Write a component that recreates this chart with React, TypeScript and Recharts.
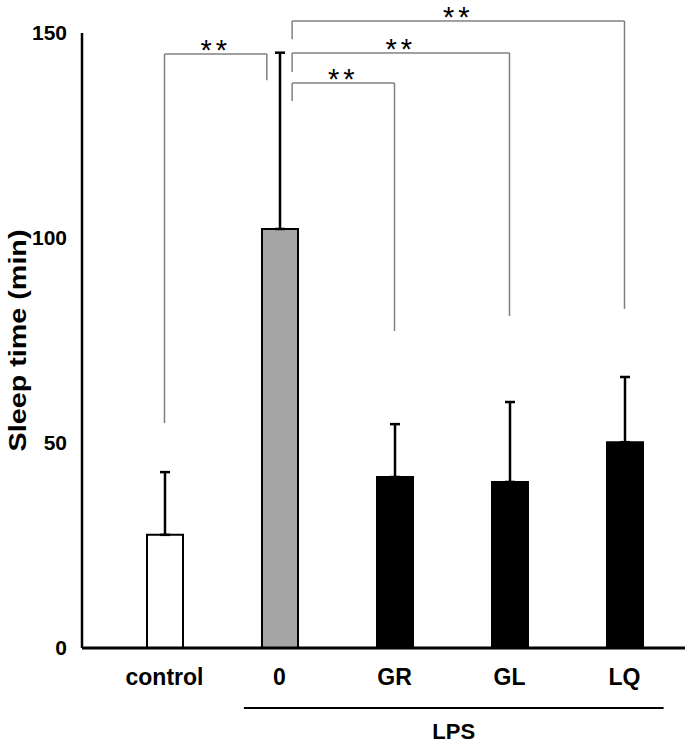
import { Bar, BarChart, Cell, ErrorBar, ReferenceLine, XAxis, YAxis } from "recharts";

// groups, means and upper SD
const groups = ["control", "0", "GR", "GL", "LQ"];
const means = [27.6, 102.2, 41.7, 40.5, 50.2];
const errUp = [15.3, 43.0, 12.9, 19.5, 15.9];
const fills = ["#ffffff", "#a6a6a6", "#000000", "#000000", "#000000"];
const yTicks = [0, 50, 100, 150];

// significance brackets: group indices, bracket height, leg end values
const brFrom = [0, 1, 1, 1];
const brTo = [1, 2, 3, 4];
const brTop = [144.9, 137.8, 145.1, 152.9];
const brFromEnd = [54.9, 133.4, 140.5, 148.5];
const brToEnd = [138.5, 77.3, 81.0, 82.7];
const brLabel = ["**", "**", "**", "**"];

// LPS group under the axis
const lpsFrom = 1;
const lpsTo = 4;

const W = 685;
const H = 747;
const TOP = 33;
const AXIS_W = 82;
const XAXIS_H = 50;
const BOTTOM = 49;
const PAD_L = 25;
const PAD_R = 3;
const HUB = 1; // bar with the tall error bar, legs step aside from it
const LEG_SHIFT = 0.11;

const font = "Arial, 'Liberation Sans', sans-serif";

const data = groups.map((g, i) => ({
  name: g,
  value: means[i],
  err: [0, errUp[i]],
}));

const band = (W - AXIS_W - PAD_L - PAD_R) / groups.length;
const plotH = H - TOP - XAXIS_H - BOTTOM;
const pxToVal = (px: number) => (px * 150) / plotH;

// pixel shift of a bracket leg away from the hub bar
const legShift = (idx: number, other: number) =>
  idx === HUB ? Math.sign(other - idx) * LEG_SHIFT * band : 0;

// a reference line whose two ends are moved sideways by dx1 / dx2 px
const shiftedLine = (dx1: number, dx2: number) => (p: any) => (
  <line
    x1={p.x1 + dx1}
    y1={p.y1}
    x2={p.x2 + dx2}
    y2={p.y2}
    stroke={p.stroke}
    strokeWidth={p.strokeWidth}
  />
);

function StarLabel(props: any) {
  const vb = props.viewBox || {};
  return (
    <text
      x={vb.x + vb.width / 2 + (props.shift || 0)}
      y={vb.y + 6}
      textAnchor="middle"
      fontFamily={font}
      fontSize={29}
      letterSpacing={4}
      fill="#000"
    >
      {props.value}
    </text>
  );
}

function GroupLabel(props: any) {
  const vb = props.viewBox || {};
  return (
    <text
      x={vb.x + vb.width / 2 + (props.shift || 0)}
      y={vb.y + 31}
      textAnchor="middle"
      fontFamily={font}
      fontWeight="bold"
      fontSize={22}
      fill="#000"
    >
      {props.value}
    </text>
  );
}

function YLabel(props: any) {
  const vb = props.viewBox || {};
  const cx = 18;
  const cy = vb.y + vb.height / 2;
  return (
    <text
      x={cx}
      y={cy}
      transform={`rotate(-90 ${cx} ${cy})`}
      dy="0.35em"
      textAnchor="middle"
      fontFamily={font}
      fontWeight="bold"
      fontSize={24}
      textLength={222}
      lengthAdjust="spacingAndGlyphs"
      fill="#000"
    >
      Sleep time (min)
    </text>
  );
}

export default function App() {
  const tickStyle = { fontFamily: font, fontWeight: "bold", fill: "#000" };
  const lpsY = -pxToVal(60);
  const lpsDx1 = -0.31 * band;
  const lpsDx2 = 0.34 * band;
  return (
    <div style={{ position: "absolute", left: 0, top: 0, width: W, height: H, background: "#fff" }}>
      <BarChart
        width={W}
        height={H}
        data={data}
        margin={{ top: TOP, right: 0, bottom: BOTTOM, left: 0 }}
        barSize={36}
      >
        <XAxis
          dataKey="name"
          padding={{ left: PAD_L, right: PAD_R }}
          height={XAXIS_H}
          tickLine={false}
          tickSize={0}
          tickMargin={21}
          axisLine={{ stroke: "#000", strokeWidth: 3 }}
          tick={{ ...tickStyle, fontSize: 23 }}
          interval={0}
        />
        <YAxis
          width={AXIS_W}
          domain={[0, 150]}
          ticks={yTicks}
          interval={0}
          tickLine={false}
          tickSize={0}
          tickMargin={15}
          axisLine={{ stroke: "#000", strokeWidth: 2.5 }}
          tick={{ ...tickStyle, fontSize: 21 }}
          label={<YLabel />}
        />
        <Bar dataKey="value" stroke="#000" strokeWidth={2} isAnimationActive={false}>
          {data.map((d, i) => (
            <Cell key={d.name} fill={fills[i]} />
          ))}
          <ErrorBar dataKey="err" direction="y" width={5} stroke="#000" strokeWidth={2.5} />
        </Bar>

        {brFrom.map((f, i) => {
          const t = brTo[i];
          const d1 = legShift(f, t);
          const d2 = legShift(t, f);
          const stroke = "#808080";
          return [
            <ReferenceLine
              key={`h${i}`}
              ifOverflow="visible"
              stroke={stroke}
              strokeWidth={1.5}
              segment={[{ x: groups[f], y: brTop[i] }, { x: groups[t], y: brTop[i] }]}
              shape={shiftedLine(d1, d2)}
              label={<StarLabel value={brLabel[i]} shift={(d1 + d2) / 2} />}
            />,
            <ReferenceLine
              key={`l${i}`}
              ifOverflow="visible"
              stroke={stroke}
              strokeWidth={1.5}
              segment={[{ x: groups[f], y: brFromEnd[i] }, { x: groups[f], y: brTop[i] }]}
              shape={shiftedLine(d1, d1)}
            />,
            <ReferenceLine
              key={`r${i}`}
              ifOverflow="visible"
              stroke={stroke}
              strokeWidth={1.5}
              segment={[{ x: groups[t], y: brToEnd[i] }, { x: groups[t], y: brTop[i] }]}
              shape={shiftedLine(d2, d2)}
            />,
          ];
        })}

        <ReferenceLine
          ifOverflow="visible"
          stroke="#000"
          strokeWidth={2}
          segment={[
            { x: groups[lpsFrom], y: lpsY },
            { x: groups[lpsTo], y: lpsY },
          ]}
          shape={shiftedLine(lpsDx1, lpsDx2)}
          label={<GroupLabel value="LPS" shift={(lpsDx1 + lpsDx2) / 2} />}
        />
      </BarChart>
    </div>
  );
}
